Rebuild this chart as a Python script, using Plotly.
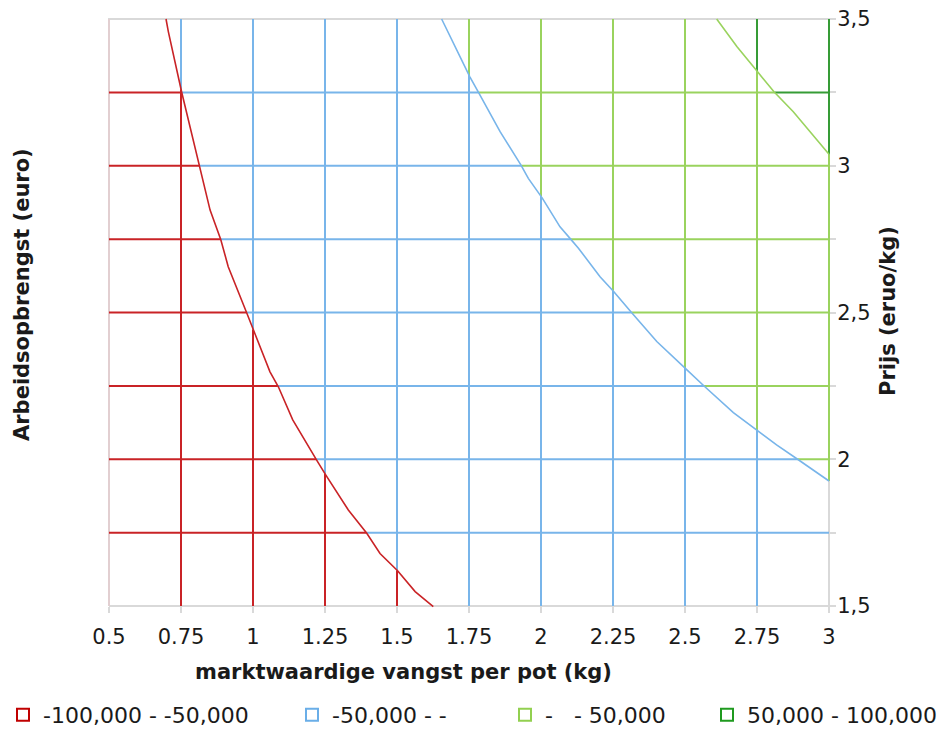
import numpy as np
import plotly.graph_objects as go

# ---------------- data ----------------
x_ticks = [0.5, 0.75, 1.0, 1.25, 1.5, 1.75, 2.0, 2.25, 2.5, 2.75, 3.0]
x_tick_labels = ["0.5", "0.75", "1", "1.25", "1.5", "1.75", "2", "2.25", "2.5", "2.75", "3"]
y_ticks = [1.5, 1.75, 2.0, 2.25, 2.5, 2.75, 3.0, 3.25, 3.5]
y_tick_labels = ["1,5", "", "2", "", "2,5", "", "3", "", "3,5"]

band_names = ["-100,000 - -50,000", "-50,000 - -", "-\u00a0\u00a0\u00a0- 50,000", "50,000 - 100,000"]
band_colors = ["#c92326", "#78b5ea", "#9ad35e", "#369c36"]
legend_colors = ["#c00000", "#6aaee8", "#92d050", "#1f9a1f"]

# contour boundaries (x = catch per pot, y = price)
red_x = [0.698, 0.706, 0.752, 0.805, 0.814, 0.845, 0.851, 0.888, 0.914, 0.978, 1.001, 1.059,
         1.088, 1.138, 1.221, 1.253, 1.331, 1.395, 1.441, 1.502, 1.563, 1.626]
red_y = [3.5, 3.457, 3.252, 3.037, 3.003, 2.883, 2.849, 2.749, 2.656, 2.499, 2.440, 2.298,
         2.247, 2.134, 1.997, 1.946, 1.827, 1.748, 1.679, 1.620, 1.549, 1.498]
blue_x = [1.655, 1.684, 1.753, 1.782, 1.858, 1.930, 1.956, 2.005, 2.066, 2.103, 2.130, 2.205,
          2.253, 2.315, 2.402, 2.503, 2.569, 2.668, 2.752, 2.818, 2.891, 2.963, 3.0]
blue_y = [3.5, 3.440, 3.303, 3.252, 3.116, 3.003, 2.957, 2.889, 2.792, 2.750, 2.719, 2.622,
          2.571, 2.499, 2.401, 2.308, 2.247, 2.159, 2.097, 2.049, 2.000, 1.950, 1.926]
green_x = [2.610, 2.680, 2.752, 2.809, 2.876, 3.0]
green_y = [3.5, 3.406, 3.320, 3.252, 3.184, 3.039]

contours = [(np.array(red_x), np.array(red_y)),
            (np.array(blue_x), np.array(blue_y)),
            (np.array(green_x), np.array(green_y))]

X0, X1 = x_ticks[0], x_ticks[-1]
Y0, Y1 = y_ticks[0], y_ticks[-1]


def boundary_x(k, y):
    cx, cy = contours[k]
    if y < cy.min() or y > cy.max():
        return np.inf
    return float(np.interp(y, cy[::-1], cx[::-1]))


def band(x, y):
    return sum(1 for k in range(len(contours)) if x > boundary_x(k, y))


segs = {}


def add(color, xs, ys):
    sx, sy = segs.setdefault(color, ([], []))
    sx += list(xs) + [None]
    sy += list(ys) + [None]


AXIS_GREY = "#d9d9d9"
LEFT_EDGE = "#e2cfd1"

# plot frame (grey)
add(AXIS_GREY, [X0, X1, X1, X0, X0], [Y0, Y0, Y1, Y1, Y0])

# vertical grid lines
for c in x_ticks:
    brk = [Y0, Y1]
    for cx, cy in contours:
        if cx.min() <= c <= cx.max():
            brk.append(float(np.interp(c, cx, cy)))
    brk = sorted(set(b for b in brk if Y0 <= b <= Y1))
    for a, b in zip(brk[:-1], brk[1:]):
        bi = band(c, (a + b) / 2)
        if c == X0:
            col = LEFT_EDGE
        elif c == X1 and bi < 2:
            continue
        else:
            col = band_colors[bi]
        add(col, [c, c], [a, b])

# horizontal grid lines
for c in y_ticks[1:-1]:
    brk = [X0, X1]
    for k in range(len(contours)):
        bx = boundary_x(k, c)
        if X0 <= bx <= X1:
            brk.append(bx)
    brk = sorted(set(brk))
    for a, b in zip(brk[:-1], brk[1:]):
        add(band_colors[band((a + b) / 2, c)], [a, b], [c, c])

fig = go.Figure()
for col, (sx, sy) in segs.items():
    fig.add_trace(go.Scatter(x=sx, y=sy, mode="lines", line=dict(color=col, width=2),
                             showlegend=False, hoverinfo="skip"))

for k, (cx, cy) in enumerate(contours):
    fig.add_trace(go.Scatter(x=cx, y=cy, mode="lines", line=dict(color=band_colors[k], width=1.6),
                             showlegend=False, hoverinfo="skip"))

legend_x_px = [3, 292, 505, 707]
legend_keys = ["legend", "legend2", "legend3", "legend4"]
for i, name in enumerate(band_names):
    fig.add_trace(go.Scatter(x=[None], y=[None], mode="markers", name=name,
                             xaxis="x2", yaxis="y2",
                             marker=dict(symbol="square-open", size=12, color=legend_colors[i],
                                         line=dict(width=2, color=legend_colors[i])),
                             legend=legend_keys[i]))

# pixel geometry of the plot area
PL, PR, PT, PB = 109, 829, 19, 606   # plot rectangle in pixels
PAD = 4                              # extra room so edge lines are not clipped
W, H = 940, 729
L, R, T, B = PL - PAD, W - PR - PAD, PT - PAD, H - PB - PAD
FW, FH = W - L - R, H - T - B
ux = (PR - PL) / (X1 - X0)
uy = (PB - PT) / (Y1 - Y0)

font = dict(family="DejaVu Sans, Verdana, sans-serif", size=21, color="#1a1a1a")
legend_font = dict(font, size=22)


def px_x(p):
    return (p - L) / FW


def px_y(p):
    return (H - B - p) / FH


legend_common = dict(orientation="h", yanchor="middle", xanchor="left",
                     xref="container", yref="container", y=(H - 715) / H,
                     bgcolor="rgba(0,0,0,0)", borderwidth=0, font=legend_font)
layout_legends = {}
for i, key in enumerate(legend_keys):
    layout_legends[key] = dict(legend_common, x=legend_x_px[i] / W)

fig.update_layout(
    template="none",
    width=W, height=H,
    margin=dict(l=L, r=R, t=T, b=B, pad=0),
    paper_bgcolor="white", plot_bgcolor="rgba(0,0,0,0)",
    font=font,
    xaxis=dict(range=[X0 - PAD / ux, X1 + PAD / ux], visible=False, domain=[0, 1],
               anchor="y", automargin=False),
    yaxis=dict(range=[Y0 - PAD / uy, Y1 + PAD / uy], visible=False, domain=[0, 1],
               anchor="x", automargin=False),
    xaxis2=dict(range=[X0, X1], domain=[PAD / FW, 1 - PAD / FW], anchor="y2",
                tickvals=x_ticks, ticktext=x_tick_labels, showgrid=False, zeroline=False,
                showline=False, ticks="outside", ticklen=6, tickcolor=AXIS_GREY, tickwidth=2,
                ticklabelstandoff=6, tickfont=font, automargin=False),
    yaxis2=dict(range=[Y0, Y1], domain=[PAD / FH, 1 - PAD / FH], anchor="x2", side="right",
                tickvals=y_ticks, ticktext=y_tick_labels, showgrid=False, zeroline=False,
                showline=False, ticks="outside", ticklen=6, tickcolor=AXIS_GREY, tickwidth=2,
                ticklabelstandoff=-3, tickfont=font, automargin=False),
    annotations=[
        dict(text="<b>marktwaardige vangst per pot (kg)</b>", xref="paper", yref="paper",
             x=px_x(403), y=px_y(672), showarrow=False, xanchor="center", yanchor="middle",
             font=font),
        dict(text="<b>Arbeidsopbrengst (euro)</b>", xref="paper", yref="paper",
             x=px_x(22), y=px_y(295), showarrow=False, textangle=-90,
             xanchor="center", yanchor="middle", font=font),
        dict(text="<b>Prijs (eruo/kg)</b>", xref="paper", yref="paper",
             x=px_x(888), y=px_y(311), showarrow=False, textangle=-90,
             xanchor="center", yanchor="middle", font=font),
    ],
    **layout_legends,
)

fig.write_html("out.html")
